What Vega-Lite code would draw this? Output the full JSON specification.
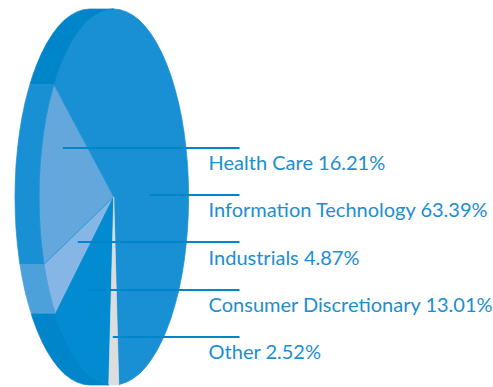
{"$schema":"https://vega.github.io/schema/vega-lite/v6.json","width":493,"height":387,"padding":0,"autosize":{"type":"fit","contains":"padding"},"background":"white","view":{"stroke":null},
"datasets":{"shapes":[
{"part":"Information Technology","x":114,"y":197},{"part":"Information Technology","x":119,"y":384.8},{"part":"Information Technology","x":120.5,"y":384.3},{"part":"Information Technology","x":127,"y":382.1},{"part":"Information Technology","x":133.4,"y":378.6},{"part":"Information Technology","x":139.7,"y":373.7},{"part":"Information Technology","x":145.7,"y":367.4},{"part":"Information Technology","x":151.5,"y":359.8},{"part":"Information Technology","x":157,"y":351},{"part":"Information Technology","x":162.2,"y":341},{"part":"Information Technology","x":167,"y":329.9},{"part":"Information Technology","x":171.5,"y":317.8},{"part":"Information Technology","x":175.4,"y":304.8},{"part":"Information Technology","x":179,"y":291},{"part":"Information Technology","x":182,"y":276.5},{"part":"Information Technology","x":184.5,"y":261.3},{"part":"Information Technology","x":186.4,"y":245.7},{"part":"Information Technology","x":187.9,"y":229.6},{"part":"Information Technology","x":188.7,"y":213.4},{"part":"Information Technology","x":189,"y":197},{"part":"Information Technology","x":188.7,"y":180.6},{"part":"Information Technology","x":187.9,"y":164.4},{"part":"Information Technology","x":186.4,"y":148.3},{"part":"Information Technology","x":184.5,"y":132.7},{"part":"Information Technology","x":182,"y":117.5},{"part":"Information Technology","x":179,"y":103},{"part":"Information Technology","x":175.4,"y":89.2},{"part":"Information Technology","x":171.5,"y":76.2},{"part":"Information Technology","x":167,"y":64.1},{"part":"Information Technology","x":162.2,"y":53},{"part":"Information Technology","x":157,"y":43},{"part":"Information Technology","x":151.5,"y":34.2},{"part":"Information Technology","x":145.7,"y":26.6},{"part":"Information Technology","x":139.7,"y":20.3},{"part":"Information Technology","x":133.4,"y":15.4},{"part":"Information Technology","x":127,"y":11.9},{"part":"Information Technology","x":120.5,"y":9.7},{"part":"Information Technology","x":114,"y":9},{"part":"Information Technology","x":107.5,"y":9.7},{"part":"Information Technology","x":101,"y":11.9},{"part":"Information Technology","x":94.6,"y":15.4},{"part":"Information Technology","x":88.3,"y":20.3},{"part":"Information Technology","x":82.3,"y":26.6},{"part":"Information Technology","x":76.5,"y":34.2},{"part":"Information Technology","x":71,"y":43},{"part":"Information Technology","x":65.8,"y":53},{"part":"Information Technology","x":61,"y":64.1},{"part":"Information Technology","x":56.5,"y":76.2},{"part":"Information Technology","x":54,"y":84.5},
{"part":"Health Care","x":114,"y":197},{"part":"Health Care","x":54,"y":84.5},{"part":"Health Care","x":52.6,"y":89.2},{"part":"Health Care","x":49,"y":103},{"part":"Health Care","x":46,"y":117.5},{"part":"Health Care","x":43.5,"y":132.7},{"part":"Health Care","x":41.6,"y":148.3},{"part":"Health Care","x":40.1,"y":164.4},{"part":"Health Care","x":39.3,"y":180.6},{"part":"Health Care","x":39,"y":197},{"part":"Health Care","x":39.3,"y":213.4},{"part":"Health Care","x":40.1,"y":229.6},{"part":"Health Care","x":41.6,"y":245.7},{"part":"Health Care","x":43.5,"y":261.3},{"part":"Health Care","x":44,"y":264.5},
{"part":"Industrials","x":114,"y":197},{"part":"Industrials","x":44,"y":264.5},{"part":"Industrials","x":46,"y":276.5},{"part":"Industrials","x":49,"y":291},{"part":"Industrials","x":52.6,"y":304.8},{"part":"Industrials","x":55.5,"y":314},
{"part":"Consumer Discretionary","x":114,"y":197},{"part":"Consumer Discretionary","x":55.5,"y":314},{"part":"Consumer Discretionary","x":61,"y":329.9},{"part":"Consumer Discretionary","x":65.8,"y":341},{"part":"Consumer Discretionary","x":71,"y":351},{"part":"Consumer Discretionary","x":76.5,"y":359.8},{"part":"Consumer Discretionary","x":82.3,"y":367.4},{"part":"Consumer Discretionary","x":88.3,"y":373.7},{"part":"Consumer Discretionary","x":94.6,"y":378.6},{"part":"Consumer Discretionary","x":101,"y":382.1},{"part":"Consumer Discretionary","x":107.5,"y":384.3},{"part":"Consumer Discretionary","x":109,"y":385},
{"part":"Other","x":114,"y":197},{"part":"Other","x":109,"y":385},{"part":"Other","x":114,"y":385},{"part":"Other","x":119,"y":384.8},
{"part":"Side Information Technology","x":114,"y":9},{"part":"Side Information Technology","x":90,"y":9},{"part":"Side Information Technology","x":83.5,"y":9.7},{"part":"Side Information Technology","x":77,"y":11.9},{"part":"Side Information Technology","x":70.6,"y":15.4},{"part":"Side Information Technology","x":64.3,"y":20.3},{"part":"Side Information Technology","x":58.3,"y":26.6},{"part":"Side Information Technology","x":52.5,"y":34.2},{"part":"Side Information Technology","x":47,"y":43},{"part":"Side Information Technology","x":41.8,"y":53},{"part":"Side Information Technology","x":37,"y":64.1},{"part":"Side Information Technology","x":32.5,"y":76.2},{"part":"Side Information Technology","x":30,"y":84.5},{"part":"Side Information Technology","x":54,"y":84.5},{"part":"Side Information Technology","x":56.5,"y":76.2},{"part":"Side Information Technology","x":61,"y":64.1},{"part":"Side Information Technology","x":65.8,"y":53},{"part":"Side Information Technology","x":71,"y":43},{"part":"Side Information Technology","x":76.5,"y":34.2},{"part":"Side Information Technology","x":82.3,"y":26.6},{"part":"Side Information Technology","x":88.3,"y":20.3},{"part":"Side Information Technology","x":94.6,"y":15.4},{"part":"Side Information Technology","x":101,"y":11.9},{"part":"Side Information Technology","x":107.5,"y":9.7},
{"part":"Side Health Care","x":30,"y":84.5},{"part":"Side Health Care","x":28.6,"y":89.2},{"part":"Side Health Care","x":25,"y":103},{"part":"Side Health Care","x":22,"y":117.5},{"part":"Side Health Care","x":19.5,"y":132.7},{"part":"Side Health Care","x":17.6,"y":148.3},{"part":"Side Health Care","x":16.1,"y":164.4},{"part":"Side Health Care","x":15.3,"y":180.6},{"part":"Side Health Care","x":15,"y":197},{"part":"Side Health Care","x":15.3,"y":213.4},{"part":"Side Health Care","x":16.1,"y":229.6},{"part":"Side Health Care","x":17.6,"y":245.7},{"part":"Side Health Care","x":19.5,"y":261.3},{"part":"Side Health Care","x":20,"y":264.5},{"part":"Side Health Care","x":44,"y":264.5},{"part":"Side Health Care","x":43.5,"y":261.3},{"part":"Side Health Care","x":41.6,"y":245.7},{"part":"Side Health Care","x":40.1,"y":229.6},{"part":"Side Health Care","x":39.3,"y":213.4},{"part":"Side Health Care","x":39,"y":197},{"part":"Side Health Care","x":39.3,"y":180.6},{"part":"Side Health Care","x":40.1,"y":164.4},{"part":"Side Health Care","x":41.6,"y":148.3},{"part":"Side Health Care","x":43.5,"y":132.7},{"part":"Side Health Care","x":46,"y":117.5},{"part":"Side Health Care","x":49,"y":103},{"part":"Side Health Care","x":52.6,"y":89.2},{"part":"Side Health Care","x":54,"y":84.5},
{"part":"Side Industrials","x":20,"y":264.5},{"part":"Side Industrials","x":22,"y":276.5},{"part":"Side Industrials","x":25,"y":291},{"part":"Side Industrials","x":28.6,"y":304.8},{"part":"Side Industrials","x":31.5,"y":314},{"part":"Side Industrials","x":55.5,"y":314},{"part":"Side Industrials","x":52.6,"y":304.8},{"part":"Side Industrials","x":49,"y":291},{"part":"Side Industrials","x":46,"y":276.5},{"part":"Side Industrials","x":44,"y":264.5},
{"part":"Side Consumer Discretionary","x":31.5,"y":314},{"part":"Side Consumer Discretionary","x":32.5,"y":317.8},{"part":"Side Consumer Discretionary","x":37,"y":329.9},{"part":"Side Consumer Discretionary","x":41.8,"y":341},{"part":"Side Consumer Discretionary","x":47,"y":351},{"part":"Side Consumer Discretionary","x":52.5,"y":359.8},{"part":"Side Consumer Discretionary","x":58.3,"y":367.4},{"part":"Side Consumer Discretionary","x":64.3,"y":373.7},{"part":"Side Consumer Discretionary","x":70.6,"y":378.6},{"part":"Side Consumer Discretionary","x":77,"y":382.1},{"part":"Side Consumer Discretionary","x":83.5,"y":384.3},{"part":"Side Consumer Discretionary","x":90,"y":385},{"part":"Side Consumer Discretionary","x":109,"y":385},{"part":"Side Consumer Discretionary","x":107.5,"y":384.3},{"part":"Side Consumer Discretionary","x":101,"y":382.1},{"part":"Side Consumer Discretionary","x":94.6,"y":378.6},{"part":"Side Consumer Discretionary","x":88.3,"y":373.7},{"part":"Side Consumer Discretionary","x":82.3,"y":367.4},{"part":"Side Consumer Discretionary","x":76.5,"y":359.8},{"part":"Side Consumer Discretionary","x":71,"y":351},{"part":"Side Consumer Discretionary","x":65.8,"y":341},{"part":"Side Consumer Discretionary","x":61,"y":329.9},{"part":"Side Consumer Discretionary","x":55.5,"y":314}
],
"labels":[
{"sector":"Health Care","share":16.21,"label":"Health Care 16.21%","start":63,"end":240,"lineY":148,"textX":209,"textY":170},
{"sector":"Information Technology","share":63.39,"label":"Information Technology 63.39%","start":150,"end":240,"lineY":195,"textX":209,"textY":217},
{"sector":"Industrials","share":4.87,"label":"Industrials 4.87%","start":78,"end":240,"lineY":242,"textX":209,"textY":265},
{"sector":"Consumer Discretionary","share":13.01,"label":"Consumer Discretionary 13.01%","start":88,"end":240,"lineY":290,"textX":209,"textY":312},
{"sector":"Other","share":2.52,"label":"Other 2.52%","start":113,"end":240,"lineY":337,"textX":209,"textY":359}
]},
"layer":[
{"data":{"name":"shapes"},"mark":{"type":"line","interpolate":"linear-closed","strokeWidth":0.7},
"encoding":{
"x":{"field":"x","type":"quantitative","axis":null,"scale":{"domain":[0,493],"nice":false,"zero":false}},
"y":{"field":"y","type":"quantitative","axis":null,"scale":{"domain":[387,0],"nice":false,"zero":false}},
"order":{"value":null},
"detail":{"field":"part"},
"fill":{"field":"part","type":"nominal","legend":null,"sort":null,"scale":{"domain":["Information Technology","Health Care","Industrials","Consumer Discretionary","Other","Side Information Technology","Side Health Care","Side Industrials","Side Consumer Discretionary"],"range":["#1890D3","#63A7DD","#85B6E5","#028BD0","#DCDDDE","#0085CA","#1890D3","#4DA1DA","#0085CA"]}},
"stroke":{"field":"part","type":"nominal","legend":null,"scale":{"domain":["Information Technology","Health Care","Industrials","Consumer Discretionary","Other","Side Information Technology","Side Health Care","Side Industrials","Side Consumer Discretionary"],"range":["#1890D3","#1890D3","#1890D3","#028BD0","#DCDDDE","#0085CA","#1890D3","#4DA1DA","#0085CA"]}}
}},
{"data":{"name":"labels"},"mark":{"type":"rule","color":"#0085CA","strokeWidth":2.2},
"encoding":{
"x":{"field":"start","type":"quantitative"},"x2":{"field":"end"},
"y":{"field":"lineY","type":"quantitative"}}},
{"data":{"name":"labels"},"mark":{"type":"text","align":"left","baseline":"alphabetic","font":"Lato","fontSize":20,"color":"#1B8ED2"},
"encoding":{
"x":{"field":"textX","type":"quantitative"},
"y":{"field":"textY","type":"quantitative"},
"text":{"field":"label","type":"nominal"}}}
]}
